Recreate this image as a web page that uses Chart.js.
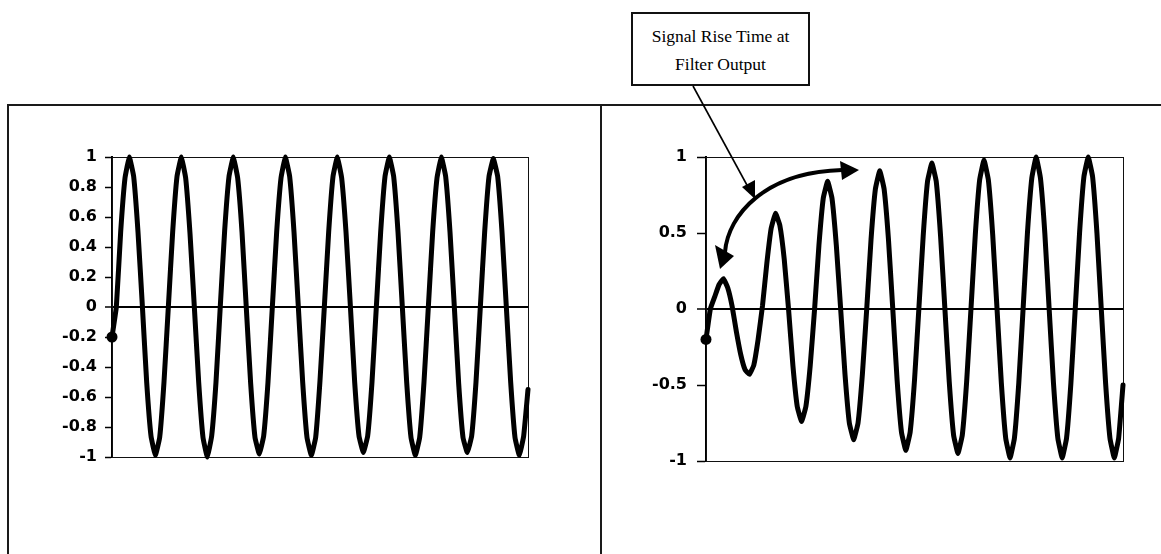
<!DOCTYPE html>
<html>
<head>
<meta charset="utf-8">
<script src="https://cdn.jsdelivr.net/npm/chart.js@4/dist/chart.umd.min.js"></script>
<style>
  html, body { margin: 0; padding: 0; background: #fff; }
  body { position: relative; width: 1161px; height: 554px; overflow: hidden; }
  .rule { position: absolute; background: #1a1a1a; }
  #wrapL { position: absolute; left: 0; top: 0; width: 601px; height: 554px; }
  #wrapR { position: absolute; left: 601px; top: 0; width: 560px; height: 554px; }
  #note {
    position: absolute; left: 631px; top: 12px; width: 175px;
    border: 2px solid #111; background: #fff;
    font-family: "Liberation Serif", "Times New Roman", serif; font-size: 17.5px;
    color: #000; text-align: center; line-height: 28px;
    box-sizing: content-box; padding-top: 8px; height: 62px;
  }
  #marks { position: absolute; left: 0; top: 0; }
</style>
</head>
<body>
<!-- panel frame -->
<div class="rule" style="left:7px; top:104px; width:1154px; height:2px;"></div>
<div class="rule" style="left:7px; top:104px; width:2px; height:450px;"></div>
<div class="rule" style="left:600px; top:104px; width:2px; height:450px;"></div>

<div id="wrapL"><canvas id="left" width="601" height="554"></canvas></div>
<div id="wrapR"><canvas id="right" width="560" height="554"></canvas></div>

<div id="note">Signal Rise Time at<br>Filter Output</div>

<svg id="marks" width="1161" height="554" xmlns="http://www.w3.org/2000/svg">
  <!-- pointer from the note -->
  <line x1="693" y1="86" x2="748" y2="187" stroke="#000" stroke-width="1.6"/>
  <polygon points="755,199 742,187 755,180" fill="#000"/>
  <!-- curved double-headed arrow over the rising envelope -->
  <path d="M 725 252 C 728 215, 765 172, 842 170" fill="none" stroke="#000" stroke-width="4"/>
  <polygon points="715,245 734,256 720,269" fill="#000"/>
  <polygon points="840,161 842,180 859,170" fill="#000"/>
</svg>

<script>
// Input sine (left) and filter output (right), one value per sample
const inputWave = [
  -0.2, 0.0, 0.5, 0.86, 1.0, 0.87, 0.5, 0.01, -0.5, -0.86, -0.99, -0.87,
  -0.5, 0.0, 0.5, 0.87, 1.0, 0.86, 0.49, 0.0, -0.5, -0.87, -1.0, -0.86,
  -0.5, 0.01, 0.51, 0.87, 1.0, 0.86, 0.5, -0.01, -0.51, -0.87, -0.98, -0.86,
  -0.5, 0.0, 0.5, 0.86, 1.0, 0.87, 0.5, 0.0, -0.5, -0.87, -0.99, -0.87,
  -0.49, 0.0, 0.5, 0.87, 1.0, 0.86, 0.5, 0.01, -0.5, -0.86, -0.97, -0.86,
  -0.5, 0.0, 0.5, 0.87, 1.0, 0.87, 0.5, 0.0, -0.5, -0.87, -0.99, -0.87,
  -0.5, 0.0, 0.5, 0.86, 1.0, 0.87, 0.5, 0.0, -0.51, -0.87, -0.97, -0.86,
  -0.5, 0.0, 0.5, 0.87, 0.99, 0.87, 0.5, 0.0, -0.5, -0.87, -0.99, -0.86,
  -0.55
];
const filterOutput = [
  -0.2, 0.0, 0.08, 0.16, 0.2, 0.14, 0.02, -0.15, -0.3, -0.4, -0.43, -0.37,
  -0.2, 0.02, 0.3, 0.53, 0.63, 0.55, 0.33, 0.0, -0.37, -0.64, -0.74, -0.64,
  -0.37, 0.0, 0.42, 0.73, 0.84, 0.73, 0.42, 0.0, -0.43, -0.75, -0.86, -0.75,
  -0.43, 0.0, 0.46, 0.79, 0.91, 0.79, 0.46, 0.0, -0.47, -0.81, -0.93, -0.81,
  -0.47, 0.0, 0.48, 0.84, 0.96, 0.84, 0.48, 0.0, -0.48, -0.83, -0.95, -0.83,
  -0.48, 0.0, 0.49, 0.85, 0.98, 0.85, 0.49, 0.0, -0.49, -0.85, -0.98, -0.85,
  -0.49, 0.0, 0.5, 0.86, 1.0, 0.86, 0.5, 0.0, -0.49, -0.85, -0.98, -0.85,
  -0.49, 0.0, 0.5, 0.87, 1.0, 0.87, 0.5, 0.0, -0.49, -0.85, -0.98, -0.85,
  -0.5
];

// Value-axis ticks
const inputTicks = [-1, -0.8, -0.6, -0.4, -0.2, 0, 0.2, 0.4, 0.6, 0.8, 1];
const inputTickLabels = ['-1', '-0.8', '-0.6', '-0.4', '-0.2', '0', '0.2', '0.4', '0.6', '0.8', '1'];
const outputTicks = [-1, -0.5, 0, 0.5, 1];
const outputTickLabels = ['-1', '-0.5', '0', '0.5', '1'];

// thin frame around the plot area
const plotFrame = {
  id: 'plotFrame',
  beforeDatasetsDraw(chart) {
    const a = chart.chartArea, c = chart.ctx;
    c.save();
    c.strokeStyle = '#111';
    c.lineWidth = 1;
    c.strokeRect(Math.round(a.left) + 0.5, Math.round(a.top) + 0.5,
                 Math.round(a.right - a.left), Math.round(a.bottom - a.top));
    c.restore();
  }
};

function waveChart(id, values, tickVals, tickLabels, opt) {
  const pts = values.map((v, i) => ({ x: i, y: v }));
  return new Chart(document.getElementById(id), {
    type: 'line',
    data: {
      datasets: [{
        data: pts,
        clip: { left: 8, top: 3, right: 3, bottom: 3 },
        borderColor: '#000',
        backgroundColor: '#000',
        borderWidth: 5,
        tension: 0.1,
        borderJoinStyle: 'round',
        borderCapStyle: 'round',
        pointStyle: 'circle',
        pointRadius: ctx => ctx.dataIndex === 0 ? 5.5 : 0,
        pointBorderWidth: 0,
        pointBackgroundColor: '#000',
        fill: false
      }]
    },
    options: {
      responsive: false,
      animation: false,
      events: [],
      layout: { padding: { left: 0, top: opt.top, right: opt.right, bottom: opt.bottom } },
      plugins: { legend: { display: false }, tooltip: { enabled: false } },
      scales: {
        x: { type: 'linear', min: 0, max: values.length - 1, display: false },
        y: {
          min: -1, max: 1,
          afterFit: s => { s.width = opt.axisWidth; },
          afterBuildTicks: s => { s.ticks = tickVals.map(v => ({ value: v })); },
          border: { display: true, color: '#000', width: 2 },
          grid: {
            drawOnChartArea: true,
            color: c => (c.tick && c.tick.value === 0) ? '#000' : 'rgba(0,0,0,0)',
            lineWidth: c => (c.tick && c.tick.value === 0) ? 2 : 1,
            tickColor: '#000',
            tickLength: opt.tickLength,
            tickWidth: 1.5
          },
          ticks: {
            padding: opt.tickPad,
            color: '#000',
            font: { family: '"DejaVu Sans", sans-serif', size: 16, weight: 'bold' },
            callback: (v, i) => tickLabels[i]
          }
        }
      }
    },
    plugins: [plotFrame]
  });
}

waveChart('left', inputWave, inputTicks, inputTickLabels,
  { axisWidth: 112, top: 157, right: 73, bottom: 97, tickLength: 7, tickPad: 8 });
waveChart('right', filterOutput, outputTicks, outputTickLabels,
  { axisWidth: 105, top: 157, right: 38, bottom: 93, tickLength: 9, tickPad: 10 });
</script>
</body>
</html>
